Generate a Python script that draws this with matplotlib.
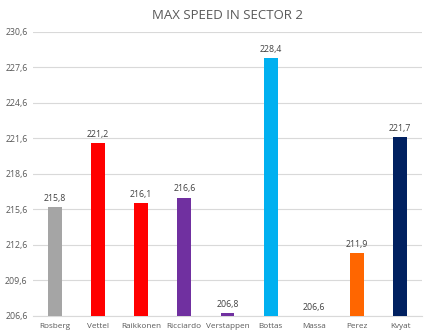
import numpy as np
import matplotlib.pyplot as plt

# Velocidad maxima por piloto en el sector 2
pilotos = ['Rosberg', 'Vettel', 'Raikkonen', 'Ricciardo', 'Verstappen',
           'Bottas', 'Massa', 'Perez', 'Kvyat']
velocidad = [215.8, 221.2, 216.1, 216.6, 206.8, 228.4, 206.6, 211.9, 221.7]
colores = ['#A5A5A5', '#FF0000', '#FF0000', '#7030A0', '#7030A0',
           '#00B0F0', '#7030A0', '#FF6600', '#002060']
ticks_y = [206.6, 209.6, 212.6, 215.6, 218.6, 221.6, 224.6, 227.6, 230.6]

BASE = 206.6
GRIS = '#595959'
FUENTE = 'Open Sans'

fig = plt.figure(figsize=(4.3, 3.36), dpi=100)
ax = fig.add_axes((0.077, 0.06, 0.904, 0.845))

x = np.arange(len(pilotos))
alturas = [v - BASE for v in velocidad]
ax.bar(x, alturas, bottom=BASE, width=0.32, color=colores, zorder=3)

# Etiquetas con el valor encima de cada barra
for xi, v in zip(x, velocidad):
    ax.annotate(f'{v:.1f}'.replace('.', ','), (xi, v), xytext=(0, 3),
                textcoords='offset points', ha='center', va='bottom',
                fontsize=6.3, color='#404040', family=FUENTE)

ax.set_xlim(-0.5, len(pilotos) - 0.5)
ax.set_ylim(BASE, ticks_y[-1])
ax.set_yticks(ticks_y)
ax.set_yticklabels([f'{t:.1f}'.replace('.', ',') for t in ticks_y],
                   fontsize=6.3, color=GRIS, family=FUENTE)
ax.set_xticks(x)
ax.set_xticklabels(pilotos, fontsize=5.9, color=GRIS, family=FUENTE)
ax.tick_params(axis='y', length=0, pad=4)
ax.tick_params(axis='x', length=0, pad=5)

ax.grid(axis='y', color='#D9D9D9', linewidth=0.8, zorder=0)
for lado in ['top', 'right', 'left']:
    ax.spines[lado].set_visible(False)
ax.spines['bottom'].set_color('#D9D9D9')

fig.text(0.53, 0.955, 'MAX SPEED IN SECTOR 2', ha='center', va='center',
         fontsize=9.5, color=GRIS, family=FUENTE)

fig.savefig('out.png', dpi=100)
